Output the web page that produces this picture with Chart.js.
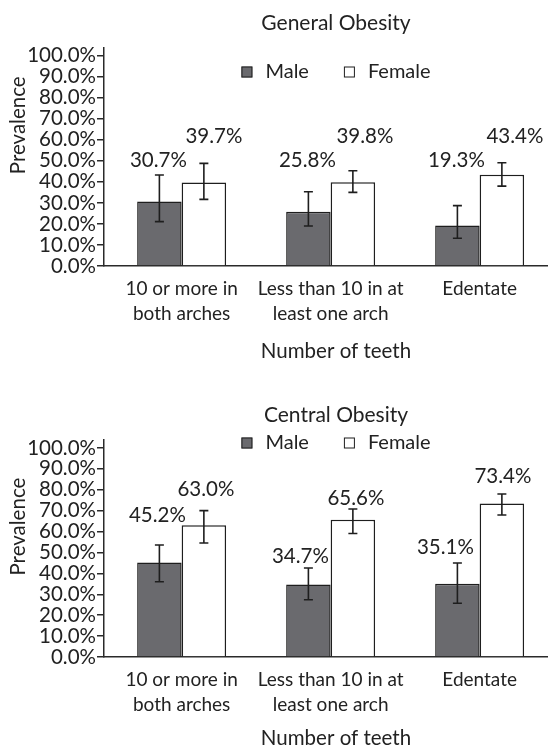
<!DOCTYPE html>
<html>
<head>
<meta charset="utf-8">
<script src="https://cdn.jsdelivr.net/npm/chart.js@4.4.1/dist/chart.umd.min.js"></script>
<style>
  body { margin: 0; background: #fff; overflow: hidden; }
  .clip { position: absolute; left: 0; width: 548px; overflow: hidden; }
  .box { position: relative; width: 568px; height: 100%; }
  #top { top: 0; height: 380px; }
  #bottom { top: 380px; height: 371px; }
</style>
</head>
<body>
<div class="clip" id="top"><div class="box"><canvas id="general"></canvas></div></div>
<div class="clip" id="bottom"><div class="box"><canvas id="central"></canvas></div></div>
<script>
const categories = [["10 or more in", "both arches"], ["Less than 10 in at", "least one arch"], ["Edentate"]];
const seriesNames = ["Male", "Female"];
const yTickTop = 100; // last labelled tick, axis line runs a bit above it

// General obesity: prevalence and 95% CI ends
const generalMale = [30.7, 25.8, 19.3];
const generalMaleLow = [21.1, 19.0, 13.2];
const generalMaleHigh = [43.3, 35.3, 28.7];
const generalFemale = [39.7, 39.8, 43.4];
const generalFemaleLow = [31.7, 35.0, 38.0];
const generalFemaleHigh = [48.8, 45.3, 49.1];

// Central obesity
const centralMale = [45.2, 34.7, 35.1];
const centralMaleLow = [36.0, 27.4, 25.7];
const centralMaleHigh = [53.6, 42.6, 45.0];
const centralFemale = [63.0, 65.6, 73.4];
const centralFemaleLow = [54.5, 59.1, 67.9];
const centralFemaleHigh = [70.0, 70.8, 78.0];

const FONT = "Lato";
const INK = "#222";

// error bars, value labels, legend and y title
const decor = {
  id: "decor",
  afterDatasetsDraw(chart, args, opts) {
    const ctx = chart.ctx;
    const y = chart.scales.y;
    ctx.save();
    chart.data.datasets.forEach(function (ds, i) {
      const meta = chart.getDatasetMeta(i);
      meta.data.forEach(function (bar, j) {
        const top = y.getPixelForValue(ds.high[j]);
        const bot = y.getPixelForValue(ds.low[j]);
        ctx.strokeStyle = "#1e1e1e";
        ctx.lineWidth = 1.6;
        ctx.beginPath();
        ctx.moveTo(bar.x, top); ctx.lineTo(bar.x, bot);
        ctx.moveTo(bar.x - 4.5, top); ctx.lineTo(bar.x + 4.5, top);
        ctx.moveTo(bar.x - 4.5, bot); ctx.lineTo(bar.x + 4.5, bot);
        ctx.stroke();

        ctx.fillStyle = INK;
        ctx.font = "20.5px " + FONT;
        ctx.textAlign = "center";
        ctx.textBaseline = "middle";
        ctx.fillText(ds.data[j].y.toFixed(1) + "%", bar.x + opts.dx[i][j], top - opts.lift[i][j]);
      });
    });
    ctx.restore();
  },
  afterDraw(chart, args, opts) {
    const ctx = chart.ctx;
    const area = chart.chartArea;
    ctx.save();
    ctx.font = "20px " + FONT;
    ctx.textBaseline = "middle";
    ctx.textAlign = "left";

    // legend
    const ds = chart.data.datasets;
    const widths = ds.map((d) => ctx.measureText(d.label).width);
    const total = 11 + 13 + widths[0] + 35 + 11 + 13 + widths[1];
    let x = (area.left + area.right) / 2 - total / 2;
    const ly = area.top + opts.legendDy;
    ds.forEach(function (d, i) {
      ctx.fillStyle = d.backgroundColor;
      ctx.fillRect(x, ly - 5.5, 11, 11);
      ctx.strokeStyle = "#1e1e1e";
      ctx.lineWidth = 1;
      ctx.strokeRect(x + 0.5, ly - 5, 10, 10);
      ctx.fillStyle = INK;
      ctx.fillText(d.label, x + 24, ly);
      x += 24 + widths[i] + 35;
    });

    // y axis title
    ctx.font = "20.5px " + FONT;
    ctx.translate(18, area.top + opts.yTitleDy);
    ctx.rotate(-Math.PI / 2);
    ctx.textAlign = "center";
    ctx.fillText("Prevalence", 0, 0);
    ctx.restore();
  }
};

function makeChart(id, title, male, maleLow, maleHigh, female, femaleLow, femaleHigh, look) {
  const toPoints = (arr) => arr.map((v, i) => ({ x: i, y: v }));
  return new Chart(document.getElementById(id), {
    type: "bar",
    data: {
      datasets: [
        {
          label: seriesNames[0],
          data: toPoints(male),
          low: maleLow,
          high: maleHigh,
          backgroundColor: "#6a6a6e",
          borderColor: "#1e1e1e",
          borderWidth: 1.5,
        },
        {
          label: seriesNames[1],
          data: toPoints(female),
          low: femaleLow,
          high: femaleHigh,
          backgroundColor: "#ffffff",
          borderColor: "#1e1e1e",
          borderWidth: 1.5,
        },
      ],
    },
    options: {
      responsive: true,
      maintainAspectRatio: false,
      animation: false,
      layout: { padding: 0 },
      datasets: { bar: { categoryPercentage: 0.597, barPercentage: 1.0 } },
      scales: {
        x: {
          type: "linear",
          min: -0.521,
          max: 2.593,
          offset: false,
          grid: { display: false, drawTicks: false },
          border: { display: true, color: "#2a2a2a", width: 1.5 },
          afterBuildTicks: (s) => { s.ticks = categories.map((c, i) => ({ value: i })); },
          afterFit: (s) => { s.height = look.xHeight; },
          ticks: {
            autoSkip: false,
            maxRotation: 0,
            padding: look.tickGap,
            color: INK,
            font: { family: FONT, size: 19, lineHeight: 1.316 },
            callback: (v) => categories[v],
          },
          title: {
            display: true,
            text: "Number of teeth",
            color: INK,
            font: { family: FONT, size: 20.5, lineHeight: 1.2 },
            padding: { top: 0, bottom: look.xTitleBottom },
          },
        },
        y: {
          min: 0,
          max: 104,
          bounds: "data",
          afterFit: (s) => { s.width = 104; },
          afterBuildTicks: (s) => { s.ticks = s.ticks.filter((t) => t.value <= yTickTop); },
          grid: { drawOnChartArea: false, drawTicks: true, tickLength: 7, color: "#2a2a2a", lineWidth: 1.5 },
          border: { display: true, color: "#2a2a2a", width: 1.5 },
          ticks: {
            stepSize: 10,
            includeBounds: false,
            autoSkip: false,
            padding: 1,
            color: INK,
            font: { family: FONT, size: 20.5 },
            callback: (v) => v.toFixed(1) + "%",
          },
        },
      },
      plugins: {
        legend: { display: false },
        tooltip: { enabled: false },
        title: {
          display: true,
          text: title,
          fullSize: false,
          color: INK,
          font: { family: FONT, size: 21, weight: "normal", lineHeight: 1.2 },
          padding: { top: look.titleTop, bottom: look.titleBottom },
        },
        decor: {
          legendDy: look.legendDy,
          yTitleDy: look.yTitleDy,
          lift: look.lift,
          dx: look.dx,
        },
      },
    },
    plugins: [decor],
  });
}

makeChart("general", "General Obesity",
  generalMale, generalMaleLow, generalMaleHigh,
  generalFemale, generalFemaleLow, generalFemaleHigh,
  {
    titleTop: 10.9, titleBottom: 11.2,
    xHeight: 114, tickGap: 10.3, xTitleBottom: 16.7,
    legendDy: 24.7, yTitleDy: 78,
    lift: [[15, 31.7, 45.7], [27.3, 34.7, 26.7]],
    dx: [[-1, -1, -1], [10, 12, 13]],
  });

makeChart("central", "Central Obesity",
  centralMale, centralMaleLow, centralMaleHigh,
  centralFemale, centralFemaleLow, centralFemaleHigh,
  {
    titleTop: 22.7, titleBottom: 11.7,
    xHeight: 94, tickGap: 10.8, xTitleBottom: 0.7,
    legendDy: 3.4, yTitleDy: 87,
    lift: [[30, 12, 16], [21, 11, 18]],
    dx: [[-2, -8, -12], [2, 3, 1]],
  });
</script>
</body>
</html>
